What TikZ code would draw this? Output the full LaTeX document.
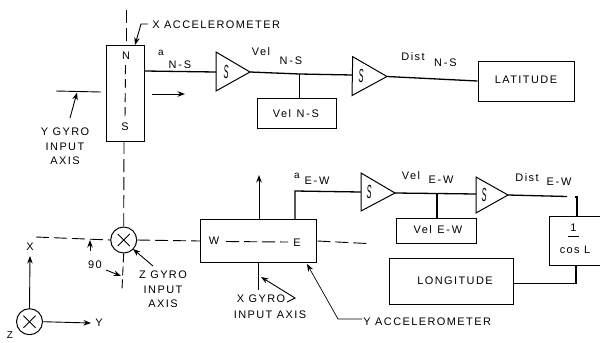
\documentclass[tikz,border=0pt]{standalone}
\usepackage{fontspec}
\setmainfont[LetterSpace=13]{Liberation Sans}
\usetikzlibrary{arrows.meta,calc}
\tikzset{
  every path/.style={line width=0.9bp,black},
  boxn/.style={draw,rectangle,inner sep=0pt,line width=1bp},
  lbl/.style={inner sep=0pt,font=\fontsize{11}{12}\selectfont,align=center},
  sub/.style={inner sep=0pt,font=\fontsize{10}{10}\selectfont},
  thick line/.style={line width=1.3bp},
  axisdash/.style={line width=0.9bp,dash pattern=on 13bp off 5bp},
  arr/.style={-{Stealth[length=7.5bp,width=5.5bp]}},
  circn/.style={draw,circle,minimum size=26bp,inner sep=0pt,line width=1bp},
  integ/.style={inner sep=0pt},
}
\newcommand{\intS}{\scalebox{0.75}[1.9]{\itshape\fontsize{10}{10}\selectfont S}}
\newcommand{\hy}{\,-\,}
\begin{document}
\begin{tikzpicture}[x=1bp,y=-1bp]
\useasboundingbox (0,0) rectangle (600,342);
% boxes
\node[boxn,minimum width=38.5bp,minimum height=96bp] (ns) at (125.7,93) {};
\node[boxn,minimum width=79bp,minimum height=30bp] (velns) at (296.5,113) {};
\node[boxn,minimum width=96bp,minimum height=40bp] (lat) at (526,81) {};
\node[boxn,minimum width=116.5bp,minimum height=43bp] (ew) at (258.7,241) {};
\node[boxn,minimum width=80.5bp,minimum height=25bp] (velew) at (436.7,230.5) {};
\node[boxn,minimum width=52bp,minimum height=49bp] (cosl) at (575.5,240.5) {};
\node[boxn,minimum width=124bp,minimum height=46bp] (lon) at (451,281) {};
\node[circn] (zc) at (123.7,240) {};
\node[circn] (oc) at (29.5,321.7) {};
\foreach \c in {zc,oc}{
  \draw (\c.north east) ++(-3.5,3.5) -- ($(\c.south west)+(3.5,-3.5)$);
  \draw (\c.north west) ++(3.5,3.5) -- ($(\c.south east)+(-3.5,-3.5)$);
}
% triangles
\coordinate (t1a) at (216,52); \coordinate (t1b) at (216,91); \coordinate (t1) at (250,72);
\coordinate (t2a) at (352.7,56.7); \coordinate (t2b) at (352,95.5); \coordinate (t2) at (387,76.5);
\coordinate (t3a) at (361,173); \coordinate (t3b) at (361,211); \coordinate (t3) at (395,193);
\coordinate (t4a) at (476,177); \coordinate (t4b) at (476,213); \coordinate (t4) at (508,195);
\foreach \t in {t1,t2,t3,t4}{ \draw[line width=1bp] (\t a) -- (\t) -- (\t b) -- cycle; }
\node[integ] (s1) at (226,72) {\intS};
\node[integ] (s2) at (361,76) {\intS};
\node[integ] (s3) at (369,192) {\intS};
\node[integ] (s4) at (484,195) {\intS};
% signal lines
\coordinate (t1in) at (216,72); \coordinate (t2in) at (352.5,75);
\coordinate (j1) at (299.5,74);
\draw[thick line] (145,71) -- (t1in);
\draw[thick line] (t1) -- (j1) -- (t2in);
\draw[thick line] (j1) -- (j1|-velns.north);
\draw[thick line] (t2) -- (lat.west);
\coordinate (ew1) at (295,219.5); \coordinate (ew2) at (295,191); \coordinate (t3in) at (361,192);
\draw[thick line] (ew1) -- (ew2) -- (t3in);
\coordinate (j2) at (437,193.5); \coordinate (t4in) at (476,194);
\draw[thick line] (t3) -- (j2) -- (t4in);
\draw[thick line] (j2) -- (j2|-velew.north);
\coordinate (dend) at (567,196.5);
\draw[thick line] (t4) -- (dend);
\coordinate (c1) at (575,197); \coordinate (c2) at (577,197);
\draw[thick line] (c1) -- (c2) -- (c2|-cosl.north);
\coordinate (c3) at (576,265); \coordinate (c4) at (576,283.5);
\draw[thick line] (c3) -- (c4) -- (lon.east|-c4);
% dashed axes
\coordinate (vtop) at (126.5,10); \coordinate (vbot) at (122,289);
\draw[axisdash] (vtop) -- (126.5,45);
\draw[axisdash,dash pattern=on 9bp off 5bp] (125.5,65) -- (125,119);
\draw[axisdash] (124,141) -- (zc.north);
\draw[axisdash,dash pattern=on 9bp off 4bp] (zc.south) -- (vbot);
\coordinate (hl) at (36,237);
\draw[axisdash] (hl) -- (zc.west);
\draw[axisdash] (zc.east) -- (ew.west);
\draw[axisdash] (226,241.5) -- (288,242);
\coordinate (hr) at (367,243.5);
\draw[axisdash] (ew.east) -- (hr);
% motion arrows
\coordinate (am1) at (152,94); \coordinate (am2) at (185,94);
\draw[arr] (am1) -- (am2);
\coordinate (up2) at (259,175);
\draw[arr] (259,219.5) -- (up2);
% gyro stubs and leaders
\coordinate (yg1) at (56,91); \coordinate (yg2) at (101,92);
\draw (yg1) -- (yg2);
\coordinate (yga) at (70,118); \coordinate (ygb) at (77,92.5);
\draw[arr] (yga) -- (ygb);
\coordinate (xa0) at (148,24); \coordinate (xa1) at (141,24); \coordinate (xa2) at (135,45);
\draw[arr] (xa0) -- (xa1) -- (xa2);
\coordinate (xg1) at (258,263); \coordinate (xg2) at (258,290);
\draw (xg1) -- (xg2);
\coordinate (xl0) at (287,302); \coordinate (xl1) at (295,298); \coordinate (xl2) at (261,277);
\draw[arr] (xl0) -- (xl1) -- (xl2);
\coordinate (zl) at (153,266); \coordinate (zt) at (133,249);
\draw[arr] (zl) -- (zt);
\coordinate (na1) at (106,270); \coordinate (na2) at (121,276);
\draw[arr] (na1) -- (na2);
\coordinate (nb1) at (90,251); \coordinate (nb2) at (90,240);
\draw[arr] (nb1) -- (nb2);
\coordinate (yl0) at (362,319); \coordinate (yl1) at (338,319); \coordinate (yl2) at (307,264);
\draw[arr,line width=0.7bp] (yl0) -- (yl1) -- (yl2);
\draw[arr] (oc.north) -- (30,256);
\draw[arr] (oc.east) -- (91,323);
% labels
\node[lbl,anchor=west] (tx) at (152,25) {X ACCELEROMETER};
\node[lbl] (tn) at (126,56) {N};
\node[lbl] (ts) at (125,127) {S};
\node[sub] (ta1) at (161,52.5) {a};
\node[lbl] (tns1) at (180,65) {N\hy S};
\node[lbl] (tv1) at (261,52) {Vel};
\node[lbl] (tns2) at (291,61) {N\hy S};
\node[lbl] (td1) at (413,57) {Dist};
\node[lbl] (tns3) at (445.5,63) {N\hy S};
\node[lbl] (tvb1) at (296,114) {Vel\enspace N\hy S};
\node[lbl] (tlat) at (526,80) {LATITUDE};
\node[lbl] (tyg) at (65,146.5) {Y GYRO\\[2.5pt]INPUT\\[2.5pt]AXIS};
\node[sub] (ta2) at (297,176) {a};
\node[lbl] (tew1) at (317,181) {E\hy W};
\node[lbl] (tv2) at (411,176) {Vel};
\node[lbl] (tew2) at (441,180) {E\hy W};
\node[lbl] (td2) at (527,177.5) {Dist};
\node[lbl] (tew3) at (559,182) {E\hy W};
\node[lbl] (tvb2) at (438,230) {Vel\enspace E\hy W};
\node[lbl] (tone) at (573.5,228) {1};
\coordinate (ov1) at (568,236.5); \coordinate (ov2) at (579,236.5);
\draw (ov1) -- (ov2);
\node[lbl] (tcos) at (575,250) {cos L};
\node[lbl] (tlon) at (455,281) {LONGITUDE};
\node[lbl] (tw) at (214,241) {W};
\node[lbl] (te) at (297,243) {E};
\node[lbl] (t90) at (95,265) {90};
\node[lbl] (tzg) at (163,289.5) {Z GYRO\\[2.5pt]INPUT\\[2.5pt]AXIS};
\node[lbl] (txg) at (261,299) {X GYRO};
\node[lbl] (txi) at (270,315) {INPUT AXIS};
\node[lbl,anchor=west] (tya) at (363,322) {Y ACCELEROMETER};
\node[lbl] (tX) at (30,247) {X};
\node[lbl] (tY) at (99,323) {Y};
\node[sub] (tZ) at (10,335.5) {Z};
\end{tikzpicture}
\end{document}
